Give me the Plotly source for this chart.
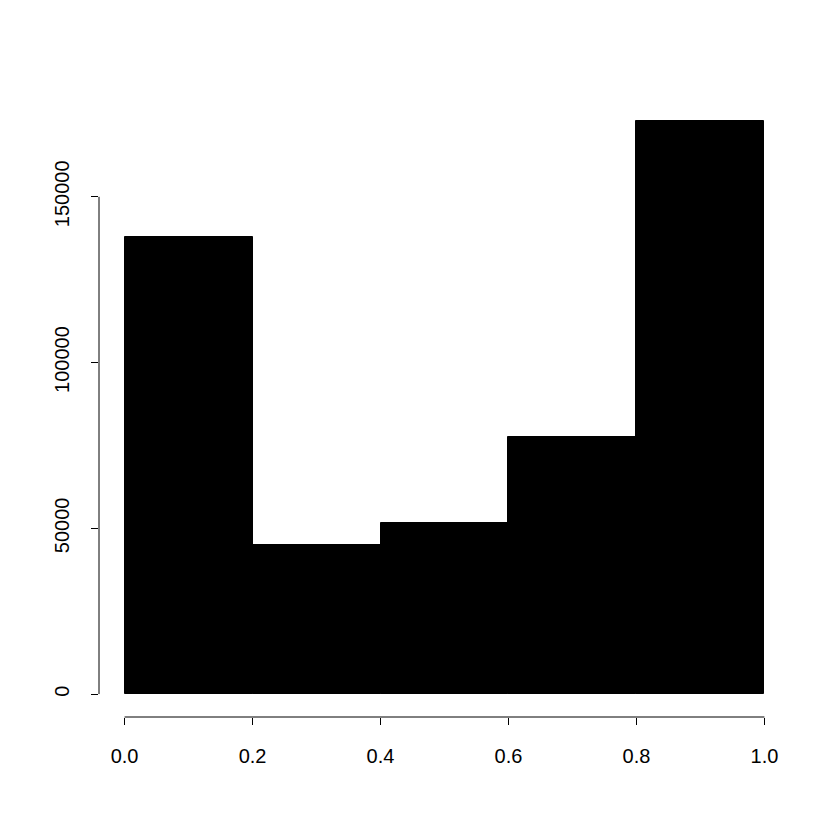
import plotly.graph_objects as go

# histogram bins and counts
bin_edges = [0.0, 0.2, 0.4, 0.6, 0.8, 1.0]
counts = [137900, 45000, 51600, 77500, 172900]
x_ticks = [0.0, 0.2, 0.4, 0.6, 0.8, 1.0]
x_labels = ["0.0", "0.2", "0.4", "0.6", "0.8", "1.0"]
y_ticks = [0, 50000, 100000, 150000]
y_labels = ["0", "50000", "100000", "150000"]

mids = [(a + b) / 2 for a, b in zip(bin_edges[:-1], bin_edges[1:])]
widths = [b - a for a, b in zip(bin_edges[:-1], bin_edges[1:])]

# R pads the axes by 4% on each side
x_span = bin_edges[-1] - bin_edges[0]
x_range = [bin_edges[0] - 0.04 * x_span, bin_edges[-1] + 0.04 * x_span]
y_top = max(counts)
y_range = [-0.04 * y_top, 1.04 * y_top]

fig = go.Figure()

fig.add_trace(go.Bar(
    x=mids,
    y=counts,
    width=widths,
    marker=dict(color="black", line=dict(color="black", width=1)),
    hoverinfo="x+y",
))

# axis lines only span the tick range, like base R
fig.add_shape(type="line", xref="x", yref="paper",
              x0=x_ticks[0], x1=x_ticks[-1], y0=0, y1=0,
              line=dict(color="black", width=1))
fig.add_shape(type="line", xref="paper", yref="y",
              x0=0, x1=0, y0=y_ticks[0], y1=y_ticks[-1],
              line=dict(color="black", width=1))

# page body adds 8px, so the figure is 824 and margins are shifted
fig.update_layout(
    width=824,
    height=824,
    margin=dict(l=91, r=42, t=90, b=115),
    plot_bgcolor="white",
    paper_bgcolor="white",
    showlegend=False,
    bargap=0,
    font=dict(family="Liberation Sans, Arial, sans-serif", size=20, color="black"),
)

fig.update_xaxes(
    range=x_range,
    tickvals=x_ticks,
    ticktext=x_labels,
    ticks="outside",
    ticklen=7,
    tickcolor="black",
    tickwidth=1,
    showline=False,
    showgrid=False,
    zeroline=False,
    ticklabelstandoff=14,
)

fig.update_yaxes(
    range=y_range,
    tickvals=y_ticks,
    ticktext=y_labels,
    tickangle=-90,
    ticks="outside",
    ticklen=7,
    tickcolor="black",
    tickwidth=1,
    showline=False,
    showgrid=False,
    zeroline=False,
    ticklabelstandoff=14,
)

fig.write_html("out.html")
